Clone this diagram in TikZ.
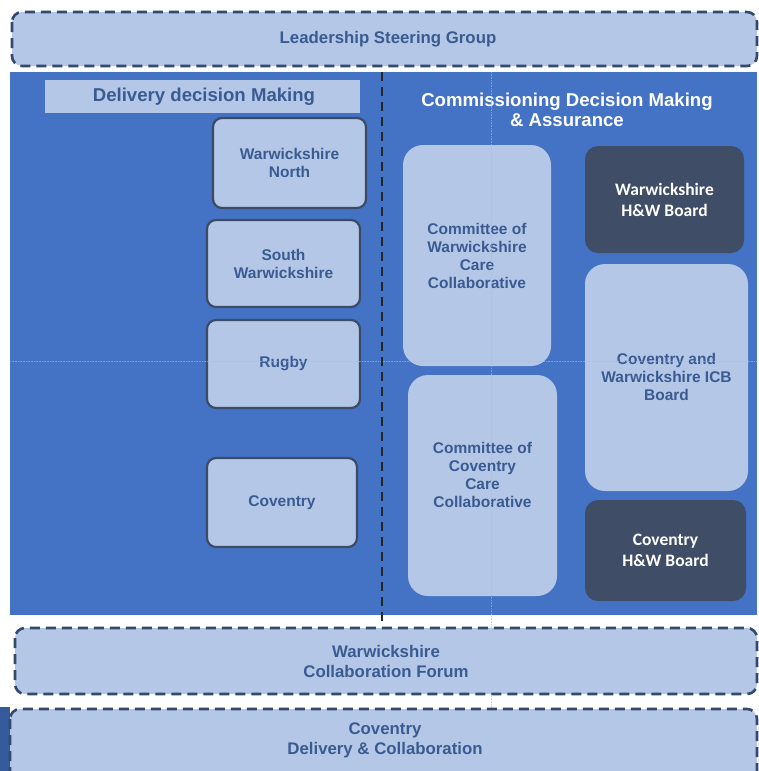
\documentclass[tikz,border=0pt]{standalone}
\usepackage{fontspec}
\setmainfont{Liberation Sans}
\newfontfamily\boardfont{Carlito}
\begin{document}
\begin{tikzpicture}[x=1pt,y=-1pt,
  lightfill/.style={fill=lightblue},
  band/.style={lightfill, draw=dashblue, line width=2.6pt, dash pattern=on 10pt off 6pt, rounded corners=10pt},
  areabox/.style={lightfill, draw=edgeblue, line width=2.2pt, rounded corners=9pt},
  cttee/.style={lightfill, rounded corners=20pt},
  board/.style={fill=slate, rounded corners=13pt},
  lbl/.style={font=\bfseries\fontsize{15.5}{18}\selectfont, text=textblue, align=center},
  boardlbl/.style={font=\boardfont\bfseries\fontsize{17.5}{21}\selectfont, text=white, align=center},
  bandlbl/.style={font=\bfseries\fontsize{16.8}{20}\selectfont, text=textblue, align=center}]
\definecolor{lightblue}{HTML}{B5C7E6}
\definecolor{dashblue}{HTML}{33496E}
\definecolor{edgeblue}{HTML}{3B4B66}
\definecolor{panelblue}{HTML}{4472C4}
\definecolor{slate}{HTML}{3F4D66}
\definecolor{textblue}{HTML}{3A5B91}
\definecolor{guide}{HTML}{A9BCDD}

\useasboundingbox (0,0) rectangle (759,771);
\fill[white] (0,0) rectangle (759,771);

% top band
\draw[band] (12,12) rectangle (757,66);
\node[bandlbl] (lsg) at (388,39) {Leadership Steering Group};

% main panel
\fill[panelblue] (10,72) rectangle (757,615);

% delivery side
\fill[lightblue] (45,80) rectangle (360,113);
\node[font=\bfseries\fontsize{18.6}{20}\selectfont, text=textblue] (dlv) at (204,97) {Delivery decision Making};

\draw[areabox] (213,118) rectangle (366,208);
\node[lbl] (wn) at (289.5,163) {Warwickshire\\North};
\draw[areabox] (207,220) rectangle (360,307);
\node[lbl] (sw) at (283.5,263.5) {South\\Warwickshire};
\draw[areabox] (207,320) rectangle (360,408);
\node[lbl] (rg) at (283.5,364) {Rugby};
\draw[areabox] (207,458) rectangle (357,547);
\node[lbl] (cv) at (282,502.5) {Coventry};

% commissioning side
\node[font=\bfseries\fontsize{18.6}{20}\selectfont, text=white, align=center] (cdm) at (567,110) {Commissioning Decision Making\\\& Assurance};

\fill[cttee] (403,145) rectangle (551,366);
\node[lbl] (cwc) at (477,256) {Committee of\\Warwickshire\\Care\\Collaborative};
\fill[cttee] (408,375) rectangle (557,596);
\node[lbl] (ccc) at (482.5,475) {Committee of\\Coventry\\Care\\Collaborative};

\fill[board] (585,146) rectangle (744,253);
\node[boardlbl] (whw) at (664.5,199.5) {Warwickshire\\H\&W Board};
\fill[cttee] (585,264) rectangle (748,491);
\node[lbl] (icb) at (666.5,377) {Coventry and\\Warwickshire ICB\\Board};
\fill[board] (585,500) rectangle (746,601);
\node[boardlbl] (chw) at (665.5,550.5) {Coventry\\H\&W Board};

% faint alignment guides across the page
\draw[guide, densely dotted, line width=0.6pt, opacity=0.6] (10,361) -- (757,361);
\draw[guide, densely dotted, line width=0.6pt, opacity=0.6] (491,72) -- (491,771);

% divider between delivery and commissioning
\draw[black!85, line width=2.4pt, dash pattern=on 9pt off 6pt] (382,72) -- (382,626);

% lower bands
\fill[panelblue!80!black] (0,707) rectangle (10,771);
\draw[band] (15,628) rectangle (757,694);
\node[bandlbl] (wcf) at (386,661) {Warwickshire\\Collaboration Forum};
\draw[band] (10,709) rectangle (757,785);
\node[bandlbl] (cdc) at (385,740) {Coventry\\Delivery \& Collaboration};
\end{tikzpicture}
\end{document}
